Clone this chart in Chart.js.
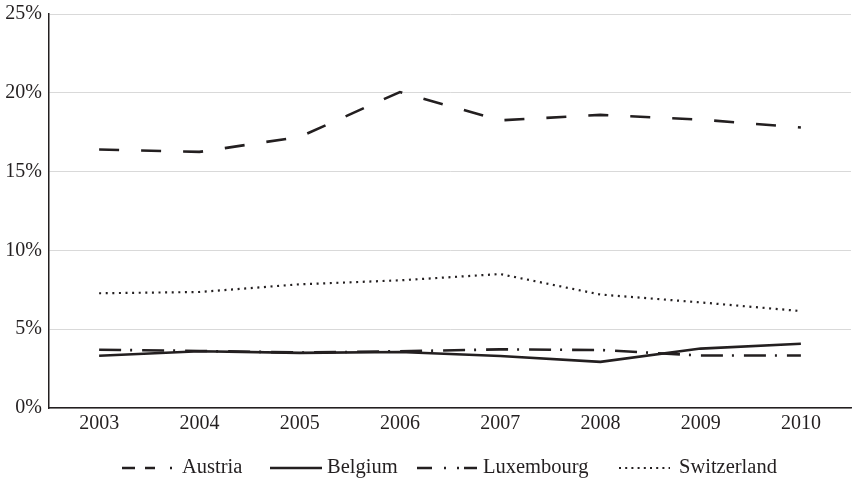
<!DOCTYPE html>
<html>
<head>
<meta charset="utf-8">
<script src="https://cdn.jsdelivr.net/npm/chart.js@4/dist/chart.umd.min.js"></script>
<style>
html,body{margin:0;padding:0;background:#fff;}
#wrap{width:852px;height:483px;}
</style>
</head>
<body>
<div id="wrap"><canvas id="c" width="852" height="483"></canvas></div>
<script>
const years = ['2003','2004','2005','2006','2007','2008','2009','2010'];
const austria = [16.4, 16.25, 17.2, 20.05, 18.25, 18.6, 18.3, 17.8];
const belgium = [3.32, 3.6, 3.5, 3.55, 3.3, 2.93, 3.77, 4.08];
const luxembourg = [3.7, 3.62, 3.52, 3.6, 3.72, 3.68, 3.33, 3.33];
const switzerland = [7.28, 7.36, 7.85, 8.1, 8.5, 7.2, 6.7, 6.15];
const seriesNames = ['Austria','Belgium','Luxembourg','Switzerland'];
const yTicks = [0, 5, 10, 15, 20, 25];

const ink = '#231f20';
const FONT = '"Liberation Serif", "DejaVu Serif", serif';
const lineDashes = [[20, 22], [], [22, 9, 2, 10], [2, 4.6]];
const widths = [2.6, 2.6, 2.6, 2.2];

// legend layout (style only)
const legendStyle = {
  y: 468,
  items: [
    { x0: 122, x1: 172, tx: 182, dash: [13, 10, 10, 15, 2, 100] },
    { x0: 270, x1: 322, tx: 327, dash: [] },
    { x0: 417, x1: 477, tx: 483, dash: [15, 12, 2, 11, 2, 5, 14, 100] },
    { x0: 619, x1: 670, tx: 679, dash: [2, 4.2] }
  ]
};

const data = [austria, belgium, luxembourg, switzerland];
const datasets = seriesNames.map((n, i) => ({
  label: n,
  data: data[i],
  borderColor: ink,
  backgroundColor: ink,
  borderWidth: widths[i],
  borderDash: lineDashes[i],
  pointRadius: 0,
  tension: 0,
  fill: false
}));

const customLegend = {
  id: 'customLegend',
  afterDraw(chart) {
    const ctx = chart.ctx;
    ctx.save();
    chart.data.datasets.forEach((ds, i) => {
      const it = legendStyle.items[i];
      ctx.beginPath();
      ctx.setLineDash(it.dash);
      ctx.lineWidth = ds.borderWidth;
      ctx.strokeStyle = ds.borderColor;
      ctx.moveTo(it.x0, legendStyle.y);
      ctx.lineTo(it.x1, legendStyle.y);
      ctx.stroke();
      ctx.setLineDash([]);
      ctx.fillStyle = ink;
      ctx.font = '20.5px ' + FONT;
      ctx.textBaseline = 'middle';
      ctx.textAlign = 'left';
      ctx.fillText(ds.label, it.tx, legendStyle.y);
    });
    ctx.restore();
  }
};

new Chart(document.getElementById('c'), {
  type: 'line',
  data: { labels: years, datasets },
  plugins: [customLegend],
  options: {
    responsive: false,
    animation: false,
    layout: { padding: { top: 14, right: 1, left: 0, bottom: 47 } },
    plugins: {
      tooltip: { enabled: false },
      legend: { display: false }
    },
    scales: {
      x: {
        offset: true,
        afterFit(scale) { scale.height = 28; },
        grid: { display: false, drawTicks: false },
        border: { display: true, color: ink, width: 1.5 },
        ticks: { font: { family: FONT, size: 20 }, color: ink, padding: 4 }
      },
      y: {
        min: 0, max: 25,
        afterBuildTicks(scale) { scale.ticks = yTicks.map(v => ({ value: v })); },
        afterFit(scale) { scale.width = 49; scale.paddingTop = 0; scale.paddingBottom = 0; },
        grid: { color: '#d9d9d9', lineWidth: 1, drawTicks: false },
        border: { display: true, color: ink, width: 1.5 },
        ticks: {
          font: { family: FONT, size: 20 }, color: ink, padding: 7,
          callback: v => v + '%'
        }
      }
    }
  }
});
</script>
</body>
</html>
